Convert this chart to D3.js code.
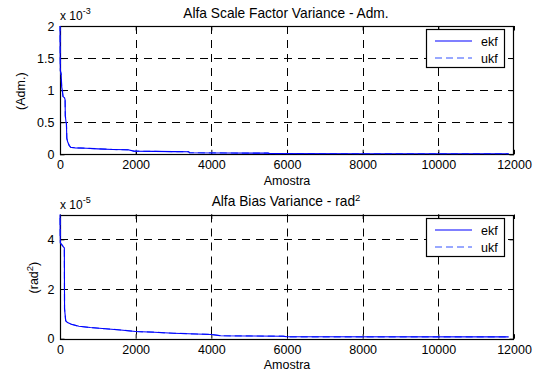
<!DOCTYPE html>
<html>
<head>
<meta charset="utf-8">
<script src="https://cdn.jsdelivr.net/npm/d3@7"></script>
<style>
  body { margin: 0; background: #fff; }
  svg { display: block; }
  text { font-family: "Liberation Sans", Arial, Helvetica, sans-serif; fill: #000; }
</style>
</head>
<body>
<svg width="538" height="373"></svg>
<script>
var svg = d3.select("svg");

// x ticks shared by both plots
var xTicks = [0, 2000, 4000, 6000, 8000, 10000, 12000];

// top plot: alfa scale factor variance (x 1e-3)
var scaleAmostra = [0, 5, 10, 30, 45, 60, 80, 120, 135, 140, 160, 170, 180, 200, 240, 280, 400, 700, 1000, 1400, 1800, 1950, 2500, 3000, 3400, 3420, 4500, 5500, 5550, 8000, 11860];
var scaleEkf = [2.2, 1.5, 1.3, 1.25, 1.05, 1.0, 0.9, 0.88, 0.85, 0.6, 0.5, 0.48, 0.25, 0.2, 0.14, 0.11, 0.1, 0.095, 0.085, 0.075, 0.07, 0.05, 0.045, 0.042, 0.04, 0.025, 0.02, 0.018, 0.01, 0.008, 0.006];
var scaleUkf = [2.2, 1.5, 1.3, 1.25, 1.05, 1.0, 0.9, 0.88, 0.85, 0.6, 0.5, 0.48, 0.25, 0.2, 0.14, 0.11, 0.1, 0.095, 0.085, 0.075, 0.07, 0.05, 0.045, 0.042, 0.04, 0.025, 0.02, 0.018, 0.01, 0.008, 0.006];
var scaleYTicks = [0, 0.5, 1, 1.5, 2];

// bottom plot: alfa bias variance (x 1e-5)
var biasAmostra = [0, 5, 10, 40, 90, 115, 120, 140, 150, 200, 300, 500, 800, 1200, 1600, 2000, 2500, 3000, 3600, 4000, 4250, 5000, 5900, 6000, 11860];
var biasEkf = [5.3, 4.2, 3.85, 3.8, 3.7, 3.65, 1.2, 0.9, 0.72, 0.65, 0.58, 0.5, 0.45, 0.4, 0.35, 0.29, 0.26, 0.22, 0.19, 0.17, 0.12, 0.11, 0.1, 0.08, 0.075];
var biasUkf = [5.3, 4.2, 3.85, 3.8, 3.7, 3.65, 1.2, 0.9, 0.72, 0.65, 0.58, 0.5, 0.45, 0.4, 0.35, 0.29, 0.26, 0.22, 0.19, 0.17, 0.12, 0.11, 0.1, 0.07, 0.07];
var biasYTicks = [0, 2, 4];

var left = 60, right = 514;
var ukfColor = "#3352ff";

function drawPanel(p) {
  var x = d3.scaleLinear().domain([0, 12000]).range([left, right]);
  var y = d3.scaleLinear().domain(p.yDomain).range([p.bottom, p.top]);
  var g = svg.append("g");

  g.append("clipPath").attr("id", "clip-" + p.id)
    .append("rect")
      .attr("x", left - 1).attr("y", p.top)
      .attr("width", right - left + 1).attr("height", p.bottom - p.top);

  // dashed grid
  g.selectAll(".gx").data(xTicks.slice(1, -1)).enter().append("line")
      .attr("x1", function(d) { return Math.round(x(d)) + 0.5; })
      .attr("x2", function(d) { return Math.round(x(d)) + 0.5; })
      .attr("y1", p.top).attr("y2", p.bottom)
      .attr("stroke", "#000").attr("stroke-dasharray", "8,6");
  g.selectAll(".gy").data(p.yTicks.filter(function(d) { return d > p.yDomain[0] && d < p.yDomain[1]; }))
    .enter().append("line")
      .attr("x1", left).attr("x2", right)
      .attr("y1", function(d) { return Math.round(y(d)) + 0.5; })
      .attr("y2", function(d) { return Math.round(y(d)) + 0.5; })
      .attr("stroke", "#000").attr("stroke-dasharray", "8,6");

  // axes with ticks inside
  g.append("g").attr("transform", "translate(0," + p.bottom + ")")
      .call(d3.axisBottom(x).tickValues(xTicks).tickFormat(d3.format("d"))
        .tickSizeInner(-4.5).tickSizeOuter(0).tickPadding(6));
  g.append("g").attr("transform", "translate(0," + p.top + ")")
      .call(d3.axisTop(x).tickValues(xTicks).tickFormat("")
        .tickSizeInner(-4.5).tickSizeOuter(0));
  g.append("g").attr("transform", "translate(" + left + ",0)")
      .call(d3.axisLeft(y).tickValues(p.yTicks).tickFormat(d3.format("~g"))
        .tickSizeInner(-4.5).tickSizeOuter(0).tickPadding(5.5));
  g.append("g").attr("transform", "translate(" + right + ",0)")
      .call(d3.axisRight(y).tickValues(p.yTicks).tickFormat("")
        .tickSizeInner(-4.5).tickSizeOuter(0));
  g.selectAll(".domain").remove();
  g.selectAll(".tick line").attr("stroke", "#000");
  g.selectAll(".tick text").style("font-size", "12.5px").attr("fill", "#000");

  // box
  g.append("rect")
      .attr("x", left + 0.5).attr("y", Math.round(p.top) + 0.5)
      .attr("width", right - left - 1).attr("height", Math.round(p.bottom) - Math.round(p.top))
      .attr("fill", "none").attr("stroke", "#000").attr("stroke-width", 1.2);

  // lines, drawn over the box like matlab does
  var line = d3.line()
      .x(function(d, i) { return x(p.xs[i]); })
      .y(function(d) { return y(d); });
  g.append("path").datum(p.ukf)
      .attr("clip-path", "url(#clip-" + p.id + ")")
      .attr("d", line).attr("fill", "none")
      .attr("stroke", ukfColor).attr("stroke-width", 1.2)
      .attr("stroke-dasharray", "7,4");
  g.append("path").datum(p.ekf)
      .attr("clip-path", "url(#clip-" + p.id + ")")
      .attr("d", line).attr("fill", "none")
      .attr("stroke", "#0000ff").attr("stroke-width", 1.1);

  // title
  var t = g.append("text")
      .attr("x", (left + right) / 2 - 1).attr("y", p.titleY)
      .attr("text-anchor", "middle").style("font-size", "13.75px")
      .text(p.title);
  if (p.titleSup) {
    t.append("tspan").attr("dy", -5).style("font-size", "9.5px").text(p.titleSup);
  }

  // exponent label
  var e = g.append("text").attr("x", left).attr("y", p.top - 6)
      .style("font-size", "12px").text("x 10");
  e.append("tspan").attr("dy", -6).style("font-size", "9px").text(p.exponent);

  // x label
  g.append("text").attr("x", (left + right) / 2).attr("y", p.bottom + 30.5)
      .attr("text-anchor", "middle").style("font-size", "12.5px").text("Amostra");

  // y label
  var yl = g.append("text")
      .attr("transform", "translate(" + p.ylabelX + "," + ((p.top + p.bottom) / 2 + 1) + ") rotate(-90)")
      .attr("text-anchor", "middle").style("font-size", "12.5px")
      .text(p.ylabel);
  if (p.ylabelSup) {
    yl.append("tspan").attr("dy", -5).style("font-size", "9.5px").text(p.ylabelSup);
    yl.append("tspan").attr("dy", 5).text(")");
  }

  // legend
  var lg = g.append("g").attr("transform", "translate(426," + p.legendTop + ")");
  lg.append("rect").attr("x", 0.5).attr("y", 0.5).attr("width", 78).attr("height", 38)
      .attr("fill", "#fff").attr("stroke", "#000").attr("stroke-width", 1.2);
  var entries = [
    {name: "ekf", color: "#0000ff", dash: null, w: 1.1},
    {name: "ukf", color: ukfColor, dash: "7,4", w: 1.2}
  ];
  var le = lg.selectAll(".le").data(entries).enter().append("g")
      .attr("transform", function(d, i) { return "translate(0," + (12 + i * 17) + ")"; });
  le.append("line").attr("x1", 9).attr("x2", 46).attr("y1", 0).attr("y2", 0)
      .attr("stroke", function(d) { return d.color; })
      .attr("stroke-width", function(d) { return d.w; })
      .attr("stroke-dasharray", function(d) { return d.dash; });
  le.append("text").attr("x", 55).attr("y", 4.5).style("font-size", "12.5px")
      .text(function(d) { return d.name; });
}

drawPanel({
  id: "top", top: 26, bottom: 154.3, yDomain: [0, 2], yTicks: scaleYTicks,
  xs: scaleAmostra, ekf: scaleEkf, ukf: scaleUkf,
  title: "Alfa Scale Factor Variance - Adm.", titleY: 17.5,
  exponent: "-3", ylabel: "(Adm.)", ylabelX: 25, legendTop: 29
});

drawPanel({
  id: "bottom", top: 214.5, bottom: 338.7, yDomain: [0, 5], yTicks: biasYTicks,
  xs: biasAmostra, ekf: biasEkf, ukf: biasUkf,
  title: "Alfa Bias Variance - rad", titleSup: "2", titleY: 205.5,
  exponent: "-5", ylabel: "(rad", ylabelSup: "2", ylabelX: 38, legendTop: 218
});
</script>
</body>
</html>
